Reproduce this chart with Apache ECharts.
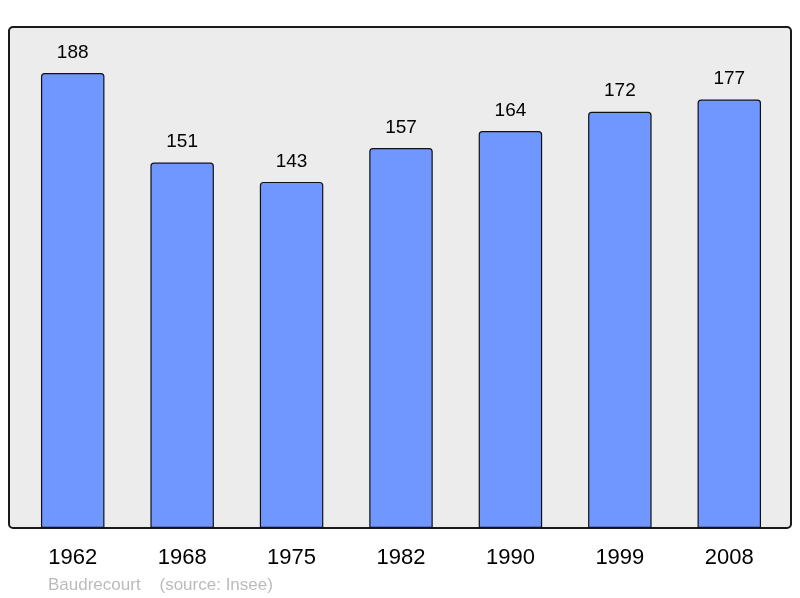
<!DOCTYPE html>
<html><head><meta charset="utf-8">
<script src="https://cdn.jsdelivr.net/npm/echarts@6/dist/echarts.min.js"></script>
<style>html,body{margin:0;padding:0;background:#fff}#c{width:800px;height:598px}</style>
</head><body><div id="c"></div>
<script>
const years = ['1962','1968','1975','1982','1990','1999','2008'];
const population = [188,151,143,157,164,172,177];
const footer = 'Baudrecourt    (source: Insee)';

const chart = echarts.init(document.getElementById('c'), null, {renderer:'canvas'});
chart.setOption({
  animation:false,
  backgroundColor:'#fff',
  grid:{left:18, top:27, width:766, height:501, show:false},
  graphic:[
    {type:'rect', z:-10, shape:{x:9, y:27, width:782, height:501, r:4},
     style:{fill:'#ececec', stroke:'#1a1a1a', lineWidth:2}},
    {type:'text', left:48, top:577, style:{text:footer, fill:'#bbbbbb', font:'17px "Liberation Sans", Arial, sans-serif'}}
  ],
  xAxis:{type:'category', data:years, axisLine:{show:false}, axisTick:{show:false},
    axisLabel:{color:'#000', fontSize:22, fontFamily:'"Liberation Sans", Arial, sans-serif', margin:19}},
  yAxis:{type:'value', min:0, max:207, show:false, splitLine:{show:false}},
  series:[{type:'bar', data:population, barWidth:'58%',
    itemStyle:{color:'#7096ff', borderColor:'#111', borderWidth:1.2, borderRadius:[3,3,0,0]},
    label:{show:true, position:'top', distance:11, color:'#000', fontSize:19,
      fontFamily:'"Liberation Sans", Arial, sans-serif'}}]
});
</script></body></html>
